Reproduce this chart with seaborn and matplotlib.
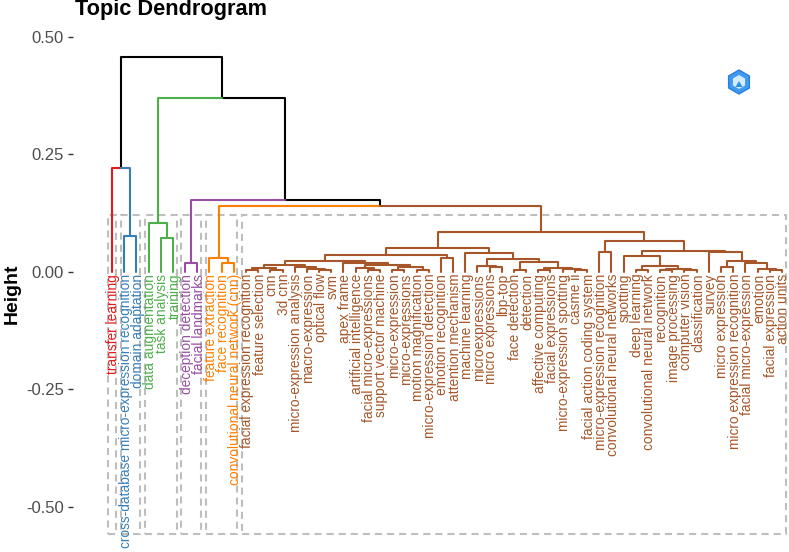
"""Topic dendrogram: hclust tree cut into six clusters, redrawn with seaborn."""

import matplotlib

matplotlib.use("Agg")

import matplotlib.pyplot as plt
import pandas as pd
import seaborn as sns
from matplotlib.patches import Rectangle, RegularPolygon
from matplotlib.transforms import IdentityTransform

TITLE = "Topic Dendrogram"
Y_LABEL = "Height"
Y_TICKS = [0.50, 0.25, 0.00, -0.25, -0.50]
Y_TICK_LABELS = ["0.50", "0.25", "0.00", "-0.25", "-0.50"]

LEAF_LABELS = [
    "transfer learning", "cross-database micro-expression recognition", "domain adaptation",
    "data augmentation", "task analysis", "training",
    "deception detection", "facial landmarks",
    "feature extraction", "face recognition", "convolutional neural network (cnn)",
    "facial expression recognition", "feature selection", "cnn", "3d cnn",
    "micro-expression analysis", "macro-expression", "optical flow", "svm", "apex frame",
    "artificial intelligence", "facial micro-expressions", "support vector machine",
    "micro-expression", "micro-expressions", "motion magnification",
    "micro-expression detection", "emotion recognition", "attention mechanism",
    "machine learning", "microexpressions", "micro expressions", "lbp-top",
    "face detection", "detection", "affective computing", "facial expressions",
    "micro-expression spotting", "casme ii", "facial action coding system",
    "micro-expression recognition", "convolutional neural networks", "spotting",
    "deep learning", "convolutional neural network", "recognition", "image processing",
    "computer vision", "classification", "survey", "micro expression",
    "micro expression recognition", "facial micro-expression", "emotion",
    "facial expression", "action units",
]

# cluster sizes, left to right, and their colours
CLUSTER_SIZES = [1, 2, 3, 2, 3, 45]
CLUSTER_COLORS = ["#E41A1C", "#377EB8", "#4DAF4A", "#984EA3", "#FF7F00", "#A65628"]

# same convention as hclust$merge: positive = leaf number, negative = earlier merge
MERGE_LEFT = [
    2, 1, 5, 4, 7, 10, 9, 12, 14, -8, 18, 17, 16, -10, 22, 21, 24, 26, -17, -16,
    20, -14, 28, -22, 32, 31, 34, 36, 39, 38, -28, -27, -26, 30, -24, 41, 44, 46,
    48, -38, -37, 43, 51, 55, 54, 53, -43, 50, -42, -36, -35, -7, -5, -4, -2,
]
MERGE_RIGHT = [
    3, -1, 6, -3, 8, 11, -6, 13, 15, -9, 19, -11, -12, -13, 23, -15, 25, 27, -18, -19,
    -20, -21, 29, -23, 33, -25, 35, 37, 40, -29, -30, -31, -32, -33, -34, 42, 45, 47,
    49, -39, -40, -41, 52, 56, -44, -45, -46, -47, -48, -49, -50, -51, -52, -53, -54,
]
MERGE_HEIGHT = [
    0.077, 0.221, 0.072, 0.105, 0.019, 0.020, 0.029, 0.003, 0.003, 0.009, 0.004,
    0.006, 0.011, 0.014, 0.004, 0.008, 0.003, 0.004, 0.011, 0.014, 0.020, 0.024,
    0.030, 0.036, 0.010, 0.013, 0.003, 0.005, 0.005, 0.007, 0.009, 0.022, 0.027,
    0.041, 0.050, 0.043, 0.005, 0.003, 0.005, 0.006, 0.013, 0.033, 0.010, 0.003,
    0.006, 0.0185, 0.024, 0.042, 0.045, 0.066, 0.085, 0.141, 0.153, 0.371, 0.458,
]

RECT_TOP = 0.121
RECT_BOTTOM = -0.557


def leaf_clusters():
    out = []
    for k, size in enumerate(CLUSTER_SIZES):
        out += [k] * size
    return out


def build_segments():
    clusters = leaf_clusters()
    x_pos, height, group = {}, {}, {}
    for i, c in enumerate(clusters, start=1):
        x_pos[i], height[i], group[i] = i, 0.0, c

    rows = []
    for m, (a, b, h) in enumerate(zip(MERGE_LEFT, MERGE_RIGHT, MERGE_HEIGHT), start=1):
        mid = (x_pos[a] + x_pos[b]) / 2
        for child in (a, b):
            seg = f"{m}_{child}"
            g = group[child]
            rows.append((seg, mid, h, g))
            rows.append((seg, x_pos[child], h, g))
            rows.append((seg, x_pos[child], height[child], g))
        x_pos[-m], height[-m] = mid, h
        group[-m] = group[a] if group[a] == group[b] else -1
    return pd.DataFrame(rows, columns=["seg", "x", "h", "cluster"])


sns.set_theme(style="white")
plt.rcParams["font.family"] = ["Liberation Sans", "DejaVu Sans"]

W, H = 789, 552
fig = plt.figure(figsize=(W / 100, H / 100), dpi=100)
ax = fig.add_axes([73 / W, 0, (W - 73) / W, (H - 20) / H])

segments = build_segments()
palette = {k: c for k, c in enumerate(CLUSTER_COLORS)}
palette[-1] = "black"
sns.lineplot(
    data=segments, x="x", y="h", hue="cluster", units="seg", estimator=None, sort=False,
    palette=palette, legend=False, linewidth=1.5, ax=ax, zorder=3,
)

# cluster boxes
start = 1
for size in CLUSTER_SIZES:
    end = start + size - 1
    ax.add_patch(Rectangle(
        (start - 0.3, RECT_BOTTOM), end - start + 0.6, RECT_TOP - RECT_BOTTOM,
        fill=False, edgecolor="#BEBEBE", linewidth=1.5, linestyle=(0, (3.4, 2.4)), zorder=2,
    ))
    start = end + 1

for i, (label, c) in enumerate(zip(LEAF_LABELS, leaf_clusters()), start=1):
    ax.text(i + 0.12, -0.004, label, rotation=90, ha="center", va="top",
            fontsize=9.95, color=CLUSTER_COLORS[c], zorder=4, clip_on=False)

ax.set_xlim(-2.2, 56.58)
ax.set_ylim(-0.596, 0.536)
ax.set_xticks([])
ax.set_yticks(Y_TICKS, Y_TICK_LABELS)
ax.tick_params(axis="y", left=True, length=3.6, width=1, color="#333333",
               labelsize=12, labelcolor="#4D4D4D", pad=3)
ax.set_xlabel("")
ax.set_ylabel(Y_LABEL, fontsize=14, fontweight="bold", color="black", va="center")
ax.yaxis.set_label_coords(-61 / (W - 73), 0.485)
ax.set_title(TITLE, loc="left", fontsize=15.7, fontweight="bold", color="black", pad=2, x=0.003)
sns.despine(ax=ax, left=True, bottom=True)

# small logo badge in the top right corner
px = IdentityTransform()
fig.add_artist(RegularPolygon((739, H - 82), 6, radius=12, facecolor="#3E9BF0",
                              edgecolor="#2C7DE0", linewidth=1, transform=px))
fig.add_artist(RegularPolygon((739, H - 82), 6, radius=7, facecolor="#D6ECFB",
                              edgecolor="none", transform=px))
fig.add_artist(RegularPolygon((739, H - 85), 3, radius=4, facecolor="#2C8FE8",
                              edgecolor="none", transform=px))

fig.savefig("out.png", dpi=100)
